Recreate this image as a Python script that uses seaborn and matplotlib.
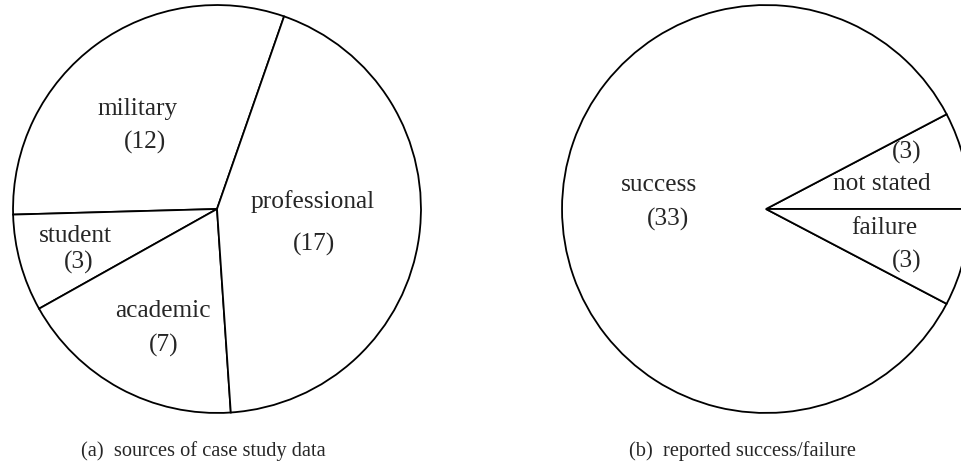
import matplotlib
matplotlib.use("Agg")
import matplotlib.pyplot as plt
import seaborn as sns

# data
source_labels = ["military", "student", "academic", "professional"]
source_counts = [12, 3, 7, 17]

outcome_labels = ["not stated", "success", "failure"]
outcome_counts = [3, 33, 3]

sns.set_theme(style="white")
plt.rcParams["font.family"] = ["Liberation Serif", "DejaVu Serif"]

fig = plt.figure(figsize=(9.62, 4.63), dpi=100)

W, H = 962, 463
r_px = 206


def pie_axes(cx, cy):
    # square axes around a pie centre given in pixels (cy from the top)
    return fig.add_axes([(cx - r_px) / W, (H - cy - r_px) / H, 2 * r_px / W, 2 * r_px / H])


wedge_style = dict(facecolor="white", edgecolor="black", linewidth=1.3)

# (a) sources of case study data
ax1 = pie_axes(217, 209)
ax1.pie(source_counts, startangle=70.8, counterclock=True, wedgeprops=wedge_style, radius=1)
ax1.set_xlim(-1.01, 1.01)
ax1.set_ylim(-1.01, 1.01)
ax1.set_aspect("equal")
ax1.axis("off")

txt = dict(fontsize=18.3, ha="center", va="center")
ax1.text(-0.39, 0.49, "military", **txt)
ax1.text(-0.354, 0.327, f"({source_counts[0]})", **txt)
ax1.text(-0.694, -0.13, "student", **txt)
ax1.text(-0.678, -0.264, f"({source_counts[1]})", **txt)
ax1.text(-0.266, -0.50, "academic", **txt)
ax1.text(-0.261, -0.671, f"({source_counts[2]})", **txt)
ax1.text(0.467, 0.035, "professional", **txt)
ax1.text(0.476, -0.175, f"({source_counts[3]})", **txt)

# (b) reported success/failure
ax2 = pie_axes(766, 209)
ax2.pie(outcome_counts, startangle=0, counterclock=True, wedgeprops=wedge_style, radius=1)
ax2.set_xlim(-1.01, 1.01)
ax2.set_ylim(-1.01, 1.01)
ax2.set_aspect("equal")
ax2.axis("off")

ax2.text(0.691, 0.278, f"({outcome_counts[0]})", **txt)
ax2.text(0.570, 0.121, "not stated", **txt)
ax2.text(-0.523, 0.117, "success", **txt)
ax2.text(-0.482, -0.049, f"({outcome_counts[1]})", **txt)
ax2.text(0.578, -0.091, "failure", **txt)
ax2.text(0.691, -0.256, f"({outcome_counts[2]})", **txt)

# captions under each pie
fig.text(203.5 / W, 1 - 451 / H, "(a)  sources of case study data", fontsize=14.7, ha="center", va="center")
fig.text(742.5 / W, 1 - 451 / H, "(b)  reported success/failure", fontsize=14.7, ha="center", va="center")

fig.savefig("out.png", dpi=100, facecolor="white")
